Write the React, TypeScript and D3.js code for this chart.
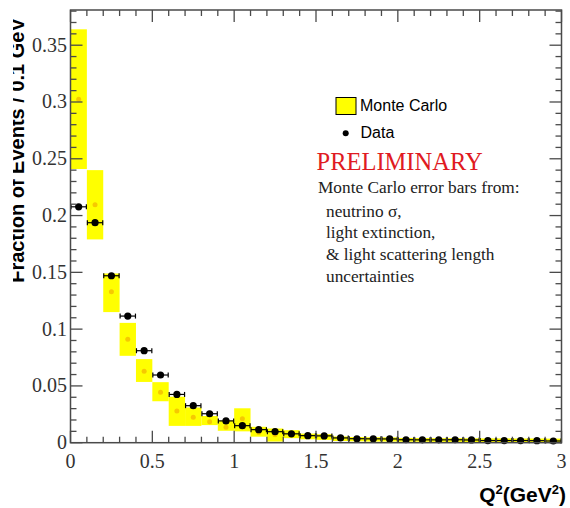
import React from "react";
import * as d3 from "d3";

const binLow: number[] = d3.range(30).map((i) => i / 10);
const dataValues: number[] = [
  0.2077, 0.1937, 0.147, 0.1115, 0.081, 0.0596, 0.0425, 0.0326, 0.0255, 0.0192,
  0.015, 0.0115, 0.0097, 0.0078, 0.0062, 0.006, 0.0042, 0.0035, 0.0034, 0.0033,
  0.0026, 0.0025, 0.0025, 0.0026, 0.0024, 0.0019, 0.0019, 0.0019, 0.0018, 0.0015,
];
const mcValues: number[] = [
  0.3025, 0.2095, 0.133, 0.091, 0.063, 0.0445, 0.028, 0.0225, 0.0185, 0.0135,
  0.021, 0.009, 0.007, 0.0075, 0.0055, 0.005, 0.0035, 0.003, 0.0028, 0.0027,
  0.0024, 0.0023, 0.0022, 0.0022, 0.0021, 0.002, 0.002, 0.0019, 0.0019, 0.0018,
];
const mcLow: number[] = [
  0.241, 0.179, 0.115, 0.0765, 0.0535, 0.0365, 0.0148, 0.0148, 0.0155, 0.0105,
  0.010, 0.0053, 0.001, 0.004, 0.003, 0.0025, 0.0015, 0.0012, 0.001, 0.001,
  0.0008, 0.0008, 0.0007, 0.0007, 0.0006, 0.0006, 0.0006, 0.0005, 0.0005, 0.0005,
];
const mcHigh: number[] = [
  0.364, 0.240, 0.149, 0.1055, 0.0736, 0.0533, 0.0405, 0.031, 0.0235, 0.0195,
  0.0303, 0.014, 0.0125, 0.011, 0.008, 0.0075, 0.0055, 0.005, 0.0048, 0.0047,
  0.0042, 0.0041, 0.004, 0.004, 0.0039, 0.0038, 0.0038, 0.0037, 0.0037, 0.0036,
];
const xTickLabels: string[] = ["0", "0.5", "1", "1.5", "2", "2.5", "3"];
const yTickLabels: string[] = ["0", "0.05", "0.1", "0.15", "0.2", "0.25", "0.3", "0.35"];
const noteLines: string[] = [
  "neutrino σ,",
  "light extinction,",
  "& light scattering length",
  "uncertainties",
];

const BIN = 0.1;
const SERIF = "'Liberation Serif', 'Times New Roman', serif";
const SANS = "'Liberation Sans', Arial, sans-serif";
const AXIS = "#4a4a4a";

export default function App() {
  const x = d3.scaleLinear().domain([0, 3]).range([70.5, 561.5]);
  const y = d3.scaleLinear().domain([0, 0.381]).range([442.7, 10]);
  const [x0, x1] = x.range();
  const [yb, yt] = y.range();

  const xMinor = d3.range(0, 31).map((i) => i / 10);
  const yMinor = d3.range(0, 39).map((i) => i / 100);

  return (
    <svg
      width={570}
      height={508}
      style={{ position: "absolute", left: 0, top: 0, background: "#fff" }}
    >
      <defs>
        <clipPath id="titleClip">
          <rect x={13} y={0} width={60} height={508} />
        </clipPath>
      </defs>

      {/* MC boxes */}
      {binLow.map((b, i) => (
        <rect
          key={"mc" + i}
          x={x(b)}
          y={y(mcHigh[i])}
          width={x(b + BIN) - x(b)}
          height={y(mcLow[i]) - y(mcHigh[i])}
          fill="#ffff00"
        />
      ))}
      {binLow.map((b, i) => (
        <circle
          key={"mcd" + i}
          cx={x(b + BIN / 2)}
          cy={y(mcValues[i])}
          r={2.5}
          fill="#f5c000"
          opacity={0.85}
        />
      ))}

      {/* Data points */}
      {binLow.map((b, i) => {
        const cy = y(dataValues[i]);
        const xa = x(b) + 0.5;
        const xb = x(b + BIN) - 0.5;
        return (
          <g key={"d" + i} stroke="#000" strokeWidth={1.2}>
            <line x1={xa} x2={xb} y1={cy} y2={cy} />
            <line x1={xa} x2={xa} y1={cy - 2.5} y2={cy + 2.5} />
            <line x1={xb} x2={xb} y1={cy - 2.5} y2={cy + 2.5} />
            <circle cx={x(b + BIN / 2)} cy={cy} r={3.6} fill="#000" stroke="none" />
          </g>
        );
      })}

      {/* Frame */}
      <rect x={x0} y={yt} width={x1 - x0} height={yb - yt} fill="none" stroke={AXIS} strokeWidth={1.5} />

      {/* X ticks bottom & top */}
      {xMinor.map((v, i) => {
        const major = i % 5 === 0;
        const len = major ? 12 : 6;
        const px = x(v);
        return (
          <g key={"xt" + i} stroke={AXIS} strokeWidth={1.3}>
            <line x1={px} x2={px} y1={yb} y2={yb - len} />
            <line x1={px} x2={px} y1={yt} y2={yt + len} />
          </g>
        );
      })}
      {/* Y ticks left & right */}
      {yMinor.map((v, i) => {
        const major = i % 5 === 0;
        const len = major ? 12 : 6;
        const py = y(v);
        return (
          <g key={"yt" + i} stroke={AXIS} strokeWidth={1.3}>
            <line x1={x0} x2={x0 + len} y1={py} y2={py} />
            <line x1={x1} x2={x1 - len} y1={py} y2={py} />
          </g>
        );
      })}

      {/* Tick labels */}
      {xTickLabels.map((t, i) => (
        <text
          key={"xl" + i}
          x={x(i * 0.5)}
          y={468}
          textAnchor="middle"
          fontFamily={SERIF}
          fontSize={20}
          fill="#333"
        >
          {t}
        </text>
      ))}
      {yTickLabels.map((t, i) => (
        <text
          key={"yl" + i}
          x={67}
          y={y(i * 0.05) + 6.5}
          textAnchor="end"
          fontFamily={SERIF}
          fontSize={20}
          fill="#333"
        >
          {t}
        </text>
      ))}

      {/* Axis titles */}
      <g clipPath="url(#titleClip)">
        <text
          transform={`translate(23.5, ${(yt + 283) / 2 + 4}) rotate(-90)`}
          textAnchor="middle"
          fontFamily={SANS}
          fontWeight="bold"
          fontSize={20}
          fill="#000"
        >
          Fraction of Events / 0.1 GeV
        </text>
      </g>
      <text x={566} y={501.5} textAnchor="end" fontFamily={SANS} fontWeight="bold" fontSize={21} fill="#000">
        Q<tspan fontSize={13} dy={-8}>2</tspan>
        <tspan dy={8}>(GeV</tspan>
        <tspan fontSize={13} dy={-8}>2</tspan>
        <tspan dy={8}>)</tspan>
      </text>

      {/* Legend */}
      <rect x={336} y={97.5} width={20} height={17} fill="#ffff00" stroke="#000" strokeWidth={1} />
      <text x={360} y={110.5} fontFamily={SANS} fontSize={16} fill="#000">Monte Carlo</text>
      <circle cx={345.7} cy={133.3} r={3} fill="#000" />
      <text x={360.5} y={137.5} fontFamily={SANS} fontSize={16} fill="#000">Data</text>

      <text x={316.5} y={170} fontFamily={SERIF} fontSize={24.5} fill="#e01a22">PRELIMINARY</text>
      <text x={318} y={193.3} fontFamily={SERIF} fontSize={17.3} fill="#222">Monte Carlo error bars from:</text>
      {noteLines.map((t, i) => (
        <text key={"n" + i} x={326} y={216.7 + i * 21.7} fontFamily={SERIF} fontSize={17.3} fill="#222">
          {t}
        </text>
      ))}
    </svg>
  );
}
